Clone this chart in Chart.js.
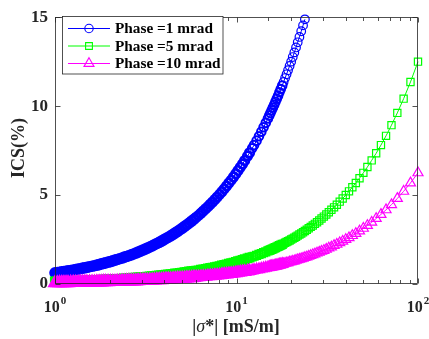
<!DOCTYPE html>
<html><head><meta charset="utf-8">
<script src="https://cdn.jsdelivr.net/npm/chart.js@4.4.0/dist/chart.umd.min.js"></script>
<style>html,body{margin:0;padding:0;background:#fff}#wrap{width:429px;height:339px;position:relative}</style>
</head><body><div id="wrap"><canvas id="c" width="429" height="339"></canvas></div>
<script>
// |sigma*| values (mS/m)
const sigma=[1,1.03,1.06,1.09,1.12,1.15,1.18,1.22,1.26,1.3,1.34,1.38,1.42,1.46,1.5,1.55,1.6,1.65,1.7,1.75,1.8,1.85,1.9,1.96,2.02,2.08,2.14,2.2,
2.27,2.34,2.41,2.48,2.55,2.63,2.71,2.79,2.87,2.96,3.05,3.14,3.23,3.33,3.43,3.53,3.64,3.75,3.86,3.97,
4.09,4.21,4.34,4.47,4.6,4.74,4.88,5.03,5.18,5.33,5.49,5.66,5.83,6,6.18,6.37,6.56,6.76,6.96,7.17,
7.38,7.6,7.83,8.07,8.31,8.56,8.82,9.08,9.35,9.63,9.92,10.2,10.5,10.8,11.1,11.5,11.8,12.2,12.5,12.9,13.3,13.7,14.1,14.5,14.9,
15.15,15.38,15.63,15.87,16.13,16.39,16.67,16.95,17.24,17.54,17.86,18.18,18.52,18.87,19.23,19.61,20,20.41,20.83,21.28,21.74,22.22,22.73,23.26,23.81,
24.39,25,25.64,26.32,27.03,27.78,28.57,29.41,30.3,31.25,32.26,33.33,34.48,35.71,37.04,38.46,40,41.67,43.48,45.45,47.62,50,52.63,55.56,58.82,62.5,66.67,71.43,76.92,83.33,90.91,100];
// ICS (%) for Phase = 1 mrad (visible part, up to 15 %)
const ics1=[0.63,0.64,0.66,0.68,0.70,0.72,0.74,0.76,0.79,0.81,0.84,0.86,0.89,0.91,0.94,0.97,1.00,1.03,1.06,1.09,1.13,1.16,1.19,1.23,1.26,1.30,1.34,1.38,
1.42,1.46,1.51,1.55,1.59,1.64,1.69,1.74,1.79,1.85,1.91,1.96,2.02,2.08,2.14,2.21,2.28,2.34,2.41,2.48,
2.56,2.63,2.71,2.79,2.88,2.96,3.05,3.14,3.24,3.33,3.43,3.54,3.64,3.75,3.86,3.98,4.10,4.23,4.35,4.48,
4.61,4.75,4.89,5.04,5.19,5.35,5.51,5.68,5.84,6.02,6.20,6.38,6.56,6.75,6.94,7.19,7.38,7.63,7.81,8.06,8.31,8.56,8.81,9.06,9.31,
9.47,9.61,9.77,9.92,10.08,10.24,10.42,10.59,10.78,10.96,11.16,11.36,11.58,11.79,12.02,12.26,12.5,12.76,13.02,13.3,13.59,13.89,14.21,14.54,14.88];
// ICS (%) for Phase = 5 mrad
const ics5=[0.13,0.13,0.13,0.14,0.14,0.14,0.15,0.15,0.16,0.16,0.17,0.17,0.18,0.18,0.19,0.19,0.20,0.21,0.21,0.22,0.23,0.23,0.24,0.25,0.25,0.26,0.27,0.28,
0.28,0.29,0.30,0.31,0.32,0.33,0.34,0.35,0.36,0.37,0.38,0.39,0.40,0.42,0.43,0.44,0.46,0.47,0.48,0.50,
0.51,0.53,0.54,0.56,0.58,0.59,0.61,0.63,0.65,0.67,0.69,0.71,0.73,0.75,0.77,0.80,0.82,0.85,0.87,0.90,
0.92,0.95,0.98,1.01,1.04,1.07,1.10,1.14,1.17,1.20,1.24,1.28,1.31,1.35,1.39,1.44,1.48,1.53,1.56,1.61,1.66,1.71,1.76,1.81,1.86,
1.89,1.92,1.95,1.98,2.02,2.05,2.08,2.12,2.16,2.19,2.23,2.27,2.32,2.36,2.40,2.45,2.50,2.55,2.60,2.66,2.72,2.78,2.84,2.91,2.98,
3.05,3.13,3.21,3.29,3.38,3.47,3.57,3.68,3.79,3.91,4.03,4.17,4.31,4.46,4.63,4.81,5.00,5.21,5.44,5.68,5.95,6.25,6.58,6.95,7.35,7.81,8.33,8.93,9.62,10.42,11.36,12.50];
// ICS (%) for Phase = 10 mrad
const ics10=[0.06,0.06,0.07,0.07,0.07,0.07,0.07,0.08,0.08,0.08,0.08,0.09,0.09,0.09,0.09,0.10,0.10,0.10,0.11,0.11,0.11,0.12,0.12,0.12,0.13,0.13,0.13,0.14,
0.14,0.15,0.15,0.16,0.16,0.16,0.17,0.17,0.18,0.19,0.19,0.20,0.20,0.21,0.21,0.22,0.23,0.23,0.24,0.25,
0.26,0.26,0.27,0.28,0.29,0.30,0.31,0.31,0.32,0.33,0.34,0.35,0.36,0.38,0.39,0.40,0.41,0.42,0.44,0.45,
0.46,0.48,0.49,0.50,0.52,0.54,0.55,0.57,0.58,0.60,0.62,0.64,0.66,0.68,0.69,0.72,0.74,0.76,0.78,0.81,0.83,0.86,0.88,0.91,0.93,
0.95,0.96,0.98,0.99,1.01,1.02,1.04,1.06,1.08,1.10,1.12,1.14,1.16,1.18,1.20,1.23,1.25,1.28,1.30,1.33,1.36,1.39,1.42,1.45,1.49,
1.52,1.56,1.60,1.65,1.69,1.74,1.79,1.84,1.89,1.95,2.02,2.08,2.16,2.23,2.32,2.40,2.50,2.60,2.72,2.84,2.98,3.13,3.29,3.47,3.68,3.91,4.17,4.46,4.81,5.21,5.68,6.25];

const seriesLabels=['Phase =1 mrad','Phase =5 mrad','Phase =10 mrad'];
const xMajorTicks=[1,10,100];
const xTickBase='10';
const xTickExp=['0','1','2'];
const yTicks=[0,5,10,15];
const xTitleParts=['|','σ','*| [mS/m]'];
const yTitle='ICS(%)';

const FONT='"Liberation Serif","Times New Roman",serif';
const AXC='#262626';
const colors=['#0000ff','#00ff00','#ff00ff'];
const styles=['circle','rect','triangle'];
const radii=[4.3,5.1,5.8];

function pts(ys){return ys.map((v,i)=>({x:sigma[i],y:v}));}

function drawMarker(ctx,style,cx,cy,r){
  ctx.beginPath();
  if(style==='circle'){ctx.arc(cx,cy,r,0,Math.PI*2);}
  else if(style==='rect'){const h=r*Math.SQRT1_2;ctx.rect(cx-h,cy-h,2*h,2*h);}
  else {ctx.moveTo(cx,cy-r);ctx.lineTo(cx+r*0.866,cy+r/2);ctx.lineTo(cx-r*0.866,cy+r/2);ctx.closePath();}
  ctx.stroke();
}

const decor={
  id:'decor',
  afterDatasetsDraw(chart){
    const {ctx,chartArea:a,scales:{x,y}}=chart;
    ctx.save();
    ctx.strokeStyle=AXC;ctx.lineWidth=0.8;
    const L=Math.round(a.left)+0.5,R=Math.round(a.right)-0.5,T=Math.round(a.top)+0.5,B=Math.round(a.bottom)-0.5;
    ctx.strokeRect(L,T,R-L,B-T);
    ctx.beginPath();
    x.ticks.forEach(t=>{
      const v=t.value;const lg=Math.log10(v);
      const maj=Math.abs(lg-Math.round(lg))<1e-9;
      const len=maj?5:3.5;
      const px=Math.round(x.getPixelForValue(v))+0.5;
      ctx.moveTo(px,B);ctx.lineTo(px,B-len);
      ctx.moveTo(px,T);ctx.lineTo(px,T+len);
    });
    yTicks.forEach(v=>{
      const py=Math.round(y.getPixelForValue(v))+0.5;
      ctx.moveTo(L,py);ctx.lineTo(L+5,py);
      ctx.moveTo(R,py);ctx.lineTo(R-5,py);
    });
    ctx.stroke();
    // x tick labels
    ctx.fillStyle=AXC;ctx.textBaseline='alphabetic';ctx.textAlign='left';
    xMajorTicks.forEach((v,i)=>{
      const px=x.getPixelForValue(v);
      ctx.font='bold 16px '+FONT;const wb=ctx.measureText(xTickBase).width;
      ctx.font='bold 11px '+FONT;const we=ctx.measureText(xTickExp[i]).width;
      const s=px-(wb+we+1)/2;
      ctx.font='bold 16px '+FONT;ctx.fillText(xTickBase,s,312);
      ctx.font='bold 11px '+FONT;ctx.fillText(xTickExp[i],s+wb+1,304);
    });
    // x title
    const fonts=['bold 18px '+FONT,'italic 18px '+FONT,'bold 18px '+FONT];
    let tw=0;const ws=xTitleParts.map((p,i)=>{ctx.font=fonts[i];const w=ctx.measureText(p).width;tw+=w;return w;});
    let sx=236-tw/2;
    xTitleParts.forEach((p,i)=>{ctx.font=fonts[i];ctx.fillText(p,sx,332);sx+=ws[i];});
    // y title
    ctx.save();ctx.translate(24,148);ctx.rotate(-Math.PI/2);
    ctx.font='bold 18px '+FONT;ctx.textAlign='center';ctx.fillText(yTitle,0,0);
    ctx.restore();
    // legend
    ctx.fillStyle='#fff';ctx.fillRect(62.5,16.5,160.5,57.5);
    ctx.strokeStyle=AXC;ctx.lineWidth=0.8;ctx.strokeRect(62.5,16.5,160.5,57.5);
    const rows=[28.5,46,63.5];
    seriesLabels.forEach((lab,i)=>{
      const ry=rows[i];
      ctx.strokeStyle=colors[i];ctx.lineWidth=1.1;
      ctx.beginPath();ctx.moveTo(68,ry);ctx.lineTo(110,ry);ctx.stroke();
      drawMarker(ctx,styles[i],89,ry,i===0?4.2:(i===1?4.8:5.8));
      ctx.fillStyle='#000';ctx.font='bold 15.3px '+FONT;ctx.textBaseline='middle';ctx.textAlign='left';
      ctx.fillText(lab,115,ry+1);
    });
    ctx.restore();
  }
};

// thicker marker outlines where the original markers overlap densely
function bw(c){const v=c.raw?c.raw.x:50;return v<6?3:(v<12?2.6:(v<18?2:1.2));}

const mk=(i,ys,order)=>({
  label:seriesLabels[i],data:pts(ys),borderColor:colors[i],backgroundColor:'rgba(0,0,0,0)',
  pointBackgroundColor:'rgba(0,0,0,0)',pointBorderColor:colors[i],pointStyle:styles[i],
  pointRadius:radii[i],pointHoverRadius:radii[i],pointBorderWidth:bw,borderWidth:1,
  tension:0,clip:false,order:order
});

new Chart(document.getElementById('c'),{
  type:'line',
  data:{datasets:[mk(0,ics1,2),mk(1,ics5,1),mk(2,ics10,0)]},
  options:{
    responsive:false,animation:false,events:[],devicePixelRatio:1,
    layout:{padding:{top:12,right:11,left:0,bottom:0}},
    plugins:{legend:{display:false},tooltip:{enabled:false}},
    scales:{
      x:{type:'logarithmic',min:1,max:100,
        ticks:{display:false},grid:{display:false,drawTicks:false},border:{display:false},
        afterFit(s){s.height=55;}},
      y:{type:'linear',min:0,max:15,
        ticks:{stepSize:5,padding:7,color:AXC,font:{family:FONT,size:17,weight:'bold'}},
        grid:{display:false,drawTicks:false},border:{display:false},
        afterFit(s){s.width=55;}}
    }
  },
  plugins:[decor]
});
</script></body></html>
